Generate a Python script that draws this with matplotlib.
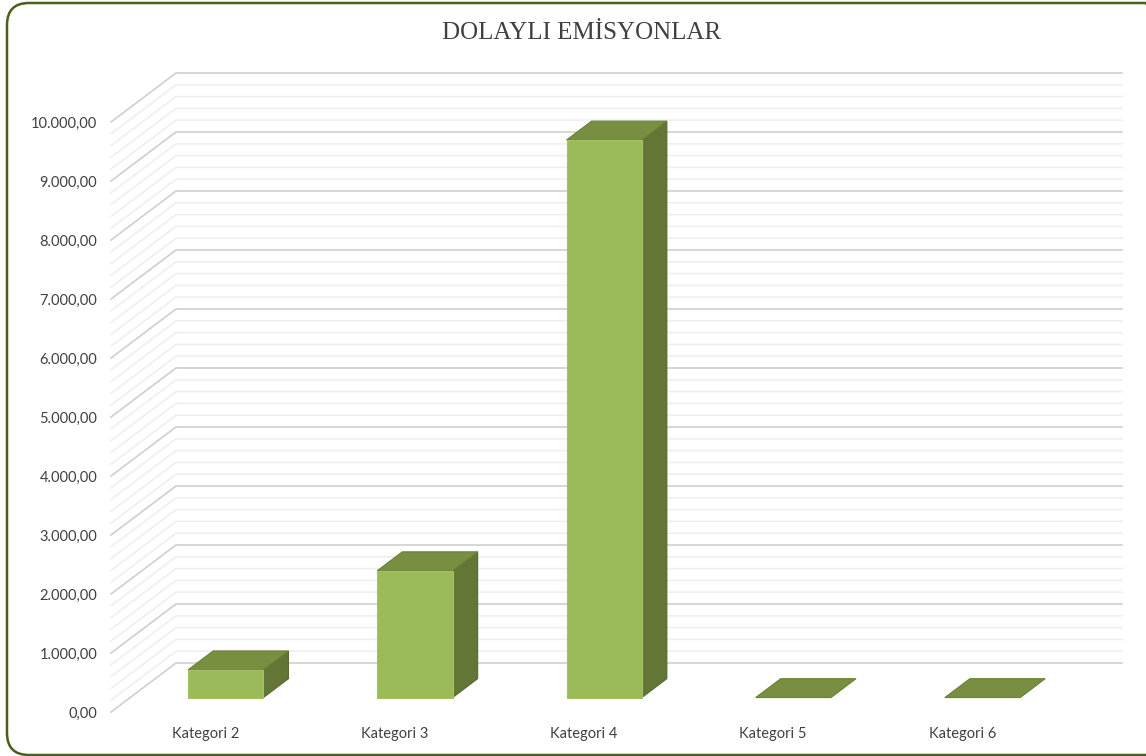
import numpy as np
import matplotlib
matplotlib.use("Agg")
import matplotlib.pyplot as plt
from matplotlib.patches import FancyBboxPatch
from matplotlib.transforms import Affine2D

# Verilerin okunan degerleri
categories = ["Kategori 2", "Kategori 3", "Kategori 4", "Kategori 5", "Kategori 6"]
values = [470, 2150, 9450, 0, 0]
y_major = [0, 1000, 2000, 3000, 4000, 5000, 6000, 7000, 8000, 9000, 10000]
y_labels = ["0,00", "1.000,00", "2.000,00", "3.000,00", "4.000,00", "5.000,00",
            "6.000,00", "7.000,00", "8.000,00", "9.000,00", "10.000,00"]
title = "DOLAYLI EMİSYONLAR"

# 3B gorunum icin kaydirma (kategori ve deger biriminde)
depth_x = 0.3436
depth_y = 830.5
bar_w = 0.398
bar_front = 0.295
bar_back = 0.68

W, H = 1146, 756
fig = plt.figure(figsize=(W / 100, H / 100), dpi=100)
ax = fig.add_axes([111 / W, (H - 712) / H, 946 / W, 590 / H])
ax.set_xlim(-0.5, 4.5)
ax.set_ylim(0, 10000)
for s in ax.spines.values():
    s.set_visible(False)
ax.patch.set_alpha(0)

# Arka duvar ve yan duvar cizgileri
for v in range(0, 10001, 200):
    major = v % 1000 == 0
    col = "#cfcfcf" if major else "#efefef"
    lw = 1.2
    ax.plot([-0.5, -0.5 + depth_x, 4.5 + depth_x], [v, v + depth_y, v + depth_y],
            color=col, lw=lw, clip_on=False, zorder=2 if major else 1,
            solid_joinstyle="miter")


# Cubuklar
def draw_bar(i, val):
    x0 = i - bar_w / 2 + 0.31 * depth_x
    x1 = x0 + bar_w
    y0 = bar_front * depth_y
    dx = (bar_back - bar_front) * depth_x
    dy = (bar_back - bar_front) * depth_y
    top = y0 + val
    if val > 0:
        ax.fill([x0, x1, x1, x0], [y0, y0, top, top], facecolor="#9bba5a",
                edgecolor="#a5c166", lw=0.8, clip_on=False, zorder=5)
        ax.fill([x1, x1 + dx, x1 + dx, x1], [y0, y0 + dy, top + dy, top],
                facecolor="#637636", edgecolor="#56682c", lw=0.8, clip_on=False, zorder=4)
    ax.fill([x0, x1, x1 + dx, x0 + dx], [top, top, top + dy, top + dy],
            facecolor="#788f42", edgecolor="#6b8136", lw=0.8, clip_on=False, zorder=4)


for i, val in enumerate(values):
    draw_bar(i, val)

ax.set_yticks(y_major)
ax.set_yticklabels(y_labels, fontfamily="Lato", fontsize=10.5, color="#404040")
ax.set_xticks(range(len(categories)))
ax.set_xticklabels(categories, fontfamily="Lato", fontsize=10.5, color="#404040")
ax.tick_params(axis="y", length=0, pad=10)
ax.tick_params(axis="x", length=0, pad=11)

fig.text(582 / W, 1 - 33 / H, title, family="Liberation Serif", fontsize=18,
         color="#404040", ha="center", va="center")

# Grafik cercevesi (piksel olarak)
frame = FancyBboxPatch((7, 1), 1160, 752,
                       boxstyle="round,pad=0,rounding_size=22",
                       transform=Affine2D(), facecolor="none",
                       edgecolor="#4a5f1a", lw=1.8)
fig.add_artist(frame)

fig.savefig("out.png", dpi=100)
